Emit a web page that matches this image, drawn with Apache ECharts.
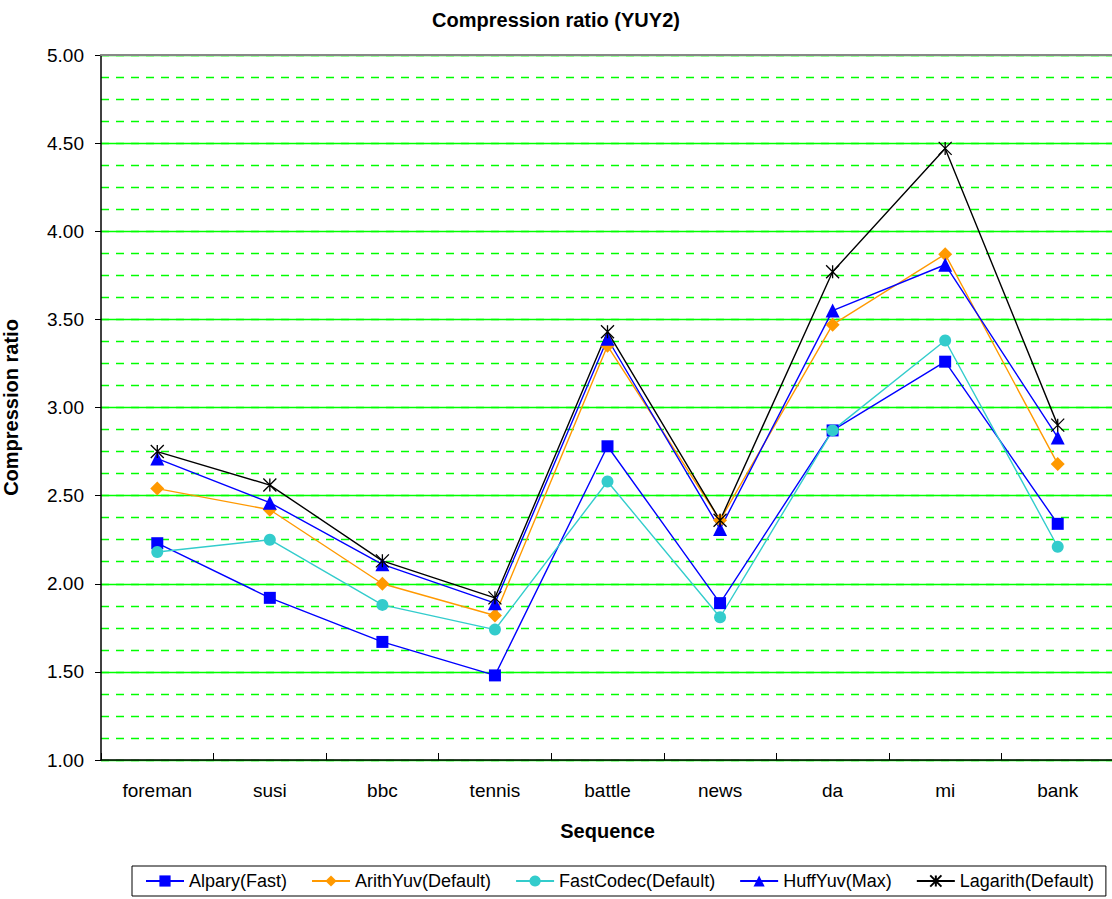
<!DOCTYPE html>
<html>
<head>
<meta charset="utf-8">
<script src="https://cdn.jsdelivr.net/npm/echarts@6/dist/echarts.min.js"></script>
<style>
html,body{margin:0;padding:0;background:#fff;}
#chart{width:1112px;height:899px;}
</style>
</head>
<body>
<div id="chart"></div>
<script>
var categories = ['foreman','susi','bbc','tennis','battle','news','da','mi','bank'];
var alpary   = [2.23, 1.92, 1.67, 1.48, 2.78, 1.89, 2.87, 3.26, 2.34];
var arithYuv = [2.54, 2.42, 2.00, 1.82, 3.35, 2.36, 3.47, 3.87, 2.68];
var fastCodec= [2.18, 2.25, 1.88, 1.74, 2.58, 1.81, 2.87, 3.38, 2.21];
var huffYuv  = [2.71, 2.46, 2.11, 1.89, 3.39, 2.31, 3.55, 3.81, 2.83];
var lagarith = [2.75, 2.56, 2.13, 1.92, 3.43, 2.36, 3.77, 4.47, 2.90];
var seriesNames = ['Alpary(Fast)','ArithYuv(Default)','FastCodec(Default)','HuffYuv(Max)','Lagarith(Default)'];

var font = 'Liberation Sans, Arial, sans-serif';
var green = '#00ff00';
var chart = echarts.init(document.getElementById('chart'), null, {renderer:'svg'});

function mk(name, data, color, symbol, size, extra) {
  var s = {
    name: name, type: 'line', data: data, yAxisIndex: 1,
    symbol: symbol, symbolSize: size,
    lineStyle: {color: color, width: 1.4},
    itemStyle: {color: color},
    emphasis: {disabled: true},
    animation: false
  };
  if (extra) { for (var k in extra) s[k] = extra[k]; }
  return s;
}

var option = {
  backgroundColor: '#fff',
  animation: false,
  title: {
    text: 'Compression ratio (YUY2)',
    left: 'center', top: 5,
    textStyle: {fontFamily: font, fontSize: 20, fontWeight: 'bold', color: '#000'}
  },
  legend: {
    left: 132, top: 866,
    orient: 'horizontal',
    borderColor: '#000', borderWidth: 1,
    padding: [6, 12, 6, 13],
    itemGap: 24, itemWidth: 38, itemHeight: 14,
    textStyle: {fontFamily: font, fontSize: 18, color: '#000'},
    data: seriesNames
  },
  grid: {
    left: 101, top: 55, width: 1013, height: 705,
    outerBoundsMode: 'none', containLabel: false
  },
  xAxis: [{
    type: 'category', data: categories, boundaryGap: true,
    name: 'Sequence', nameLocation: 'middle', nameGap: 61,
    nameTextStyle: {fontFamily: font, fontSize: 20, fontWeight: 'bold', color: '#000'},
    axisLine: {lineStyle: {color: '#000', width: 1.5}},
    axisTick: {show: true, inside: true, length: 7, lineStyle: {color: '#000'}},
    axisLabel: {interval: 0, margin: 21, fontFamily: font, fontSize: 19, color: '#000'},
    splitLine: {show: false}
  }, {
    type: 'category', data: categories, position: 'top', z: 5,
    axisLine: {show: true, lineStyle: {color: '#888', width: 2}},
    axisTick: {show: false}, axisLabel: {show: false}, splitLine: {show: false}
  }],
  yAxis: [{
    type: 'value', min: 1, max: 5, interval: 0.125, position: 'left',
    axisLine: {show: false}, axisTick: {show: false}, axisLabel: {show: false},
    splitLine: {show: true, lineStyle: {color: green, width: 1.3, type: [8, 7]}}
  }, {
    type: 'value', min: 1, max: 5, interval: 0.5, position: 'left', offset: 0,
    name: 'Compression ratio', nameLocation: 'middle', nameGap: 80, nameRotate: 90,
    nameTextStyle: {fontFamily: font, fontSize: 20, fontWeight: 'bold', color: '#000'},
    axisLine: {show: true, lineStyle: {color: '#000', width: 1.5}},
    axisTick: {show: true, inside: false, length: 6, lineStyle: {color: '#000'}},
    axisLabel: {margin: 17, fontFamily: font, fontSize: 19, color: '#000',
      formatter: function (v) { return v.toFixed(2); }},
    splitLine: {show: true, lineStyle: {color: green, width: 1.3}}
  }],
  series: [
    mk(seriesNames[0], alpary, '#0000ff', 'rect', 12),
    mk(seriesNames[1], arithYuv, '#ff9900', 'diamond', 14),
    mk(seriesNames[2], fastCodec, '#33cccc', 'circle', 12),
    mk(seriesNames[3], huffYuv, '#0000ff', 'triangle', 14),
    mk(seriesNames[4], lagarith, '#000000', 'path://M0,0L10,10M10,0L0,10M5,0L5,10', 13,
      {itemStyle: {color: '#000', borderColor: '#000', borderWidth: 1.3}})
  ]
};
chart.setOption(option);
</script>
</body>
</html>
